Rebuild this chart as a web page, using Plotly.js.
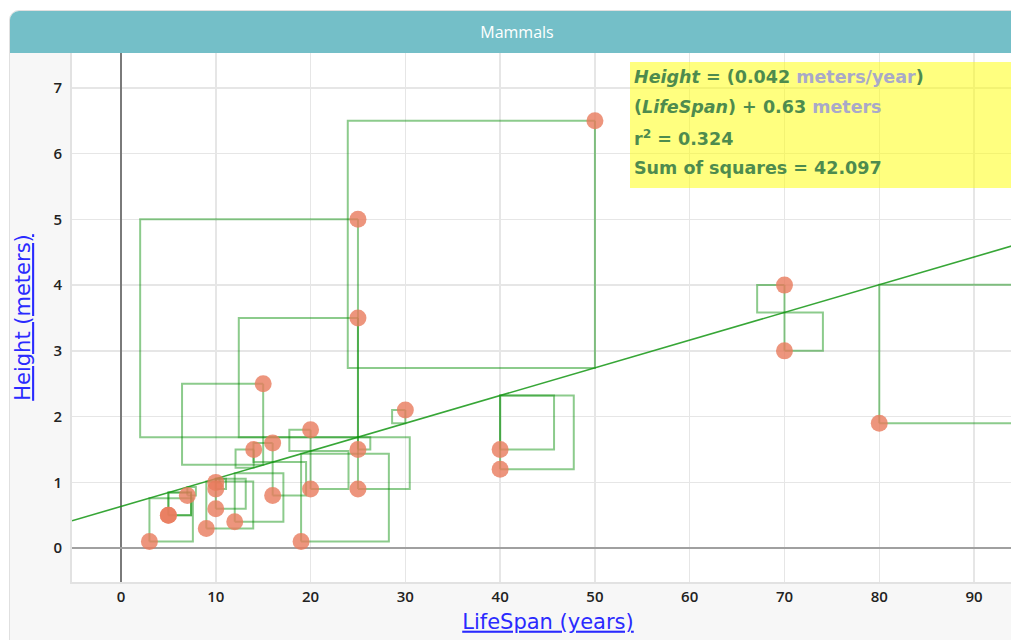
<!DOCTYPE html>
<html>
<head>
<meta charset="utf-8">
<script src="https://cdn.plot.ly/plotly-3.0.1.min.js"></script>
<style>
  html, body { margin:0; padding:0; background:#ffffff; overflow:hidden; width:1011px; height:640px; }
  #panel { position:absolute; left:9px; top:10px; width:1040px; height:660px; background:#f7f7f7;
           border:1px solid #e0e0e0; border-top-left-radius:10px; box-sizing:border-box; }
  #hdr { position:absolute; left:0; top:0; right:0; height:42px; background:#74bfc8; border-top-left-radius:9px; }
  #chart { position:absolute; left:0; top:0; width:1025px; height:640px; }
</style>
</head>
<body>
<div id="panel"><div id="hdr"></div></div>
<div id="chart"></div>
<script>
// Mammals data (LifeSpan in years, Height in meters)
const lifeSpan = [3, 5, 5, 7, 9, 10, 10, 10, 12, 14, 15, 16, 16, 19, 20, 20, 25, 25, 25, 25, 30, 40, 40, 50, 70, 70, 80];
const heightM  = [0.1, 0.5, 0.5, 0.8, 0.3, 1.0, 0.9, 0.6, 0.4, 1.5, 2.5, 1.6, 0.8, 0.1, 1.8, 0.9, 5.0, 3.5, 1.5, 0.9, 2.1, 1.5, 1.2, 6.5, 4.0, 3.0, 1.9];
const xTicks = [0, 10, 20, 30, 40, 50, 60, 70, 80, 90];
const yTicks = [0, 1, 2, 3, 4, 5, 6, 7];

const W = 1025, H = 640;
const M = {l: 72, r: 1, t: 53, b: 58};
const xRange = [-5.17, 95.27];
const yRange = [-0.515, 7.53];

// least squares fit
const n = lifeSpan.length;
const mx = lifeSpan.reduce((a, v) => a + v, 0) / n;
const my = heightM.reduce((a, v) => a + v, 0) / n;
let sxx = 0, sxy = 0, syy = 0;
for (let i = 0; i < n; i++) {
  sxx += (lifeSpan[i] - mx) ** 2;
  sxy += (lifeSpan[i] - mx) * (heightM[i] - my);
  syy += (heightM[i] - my) ** 2;
}
const slope = sxy / sxx;
const intercept = my - slope * mx;
const r2 = (sxy * sxy) / (sxx * syy);
let sse = 0;
for (let i = 0; i < n; i++) sse += (heightM[i] - (intercept + slope * lifeSpan[i])) ** 2;

// squares of residuals: equal pixel size in both directions
const plotW = W - M.l - M.r, plotH = H - M.t - M.b;
const pxX = plotW / (xRange[1] - xRange[0]);
const pxY = plotH / (yRange[1] - yRange[0]);
const kx = pxY / pxX;
const sqX = [], sqY = [];
for (let i = 0; i < n; i++) {
  const x = lifeSpan[i], y = heightM[i];
  const yh = intercept + slope * x;
  const r = y - yh;
  const dx = (r > 0 ? -1 : 1) * Math.abs(r) * kx;
  sqX.push(x, x + dx, x + dx, x, x, null);
  sqY.push(y, y, yh, yh, y, null);
}

const traces = [
  {x: sqX, y: sqY, mode: 'lines', type: 'scatter', hoverinfo: 'skip',
   line: {color: 'rgba(0,140,0,0.45)', width: 2}},
  {x: xRange, y: xRange.map(v => intercept + slope * v), mode: 'lines', type: 'scatter',
   line: {color: 'rgba(20,150,20,0.85)', width: 1.6}},
  {x: lifeSpan, y: heightM, mode: 'markers', type: 'scatter',
   marker: {size: 17, color: 'rgba(233,122,92,0.8)', line: {width: 0}}}
];

const G = '#4e8b4e', U = '#a9a9c9';
const lines = [
  `<b><i>Height</i> = (${slope.toFixed(3)} <span style="color:${U}">meters/year</span>)</b>`,
  `<b>(<i>LifeSpan</i>) + ${intercept.toFixed(2)} <span style="color:${U}">meters</span></b>`,
  `<b>r<sup>2</sup> = ${r2.toFixed(3)}</b>`,
  `<b>Sum of squares = ${sse.toFixed(3)}</b>`
];
const linePx = [77, 107, 138, 168];
const annotations = lines.map((t, i) => ({
  text: t, xref: 'paper', yref: 'paper', x: (632 - M.l) / plotW, y: (H - M.b - linePx[i]) / plotH,
  xanchor: 'left', yanchor: 'middle', showarrow: false,
  font: {family: 'DejaVu Sans', size: 17.5, color: G}
}));

const layout = {
  width: W, height: H,
  margin: M,
  paper_bgcolor: 'rgba(0,0,0,0)',
  plot_bgcolor: '#ffffff',
  showlegend: false,
  title: {text: 'Mammals', x: 517 / W, xanchor: 'center', y: 1 - 32 / H, yanchor: 'middle',
          font: {family: 'Open Sans', size: 16, color: '#ffffff'}},
  xaxis: {
    range: xRange, tickvals: xTicks, ticktext: xTicks.map(String),
    showgrid: true, gridcolor: '#e6e6e6', gridwidth: 1.5,
    zeroline: true, zerolinecolor: '#7a7a7a', zerolinewidth: 1.5,
    showline: true, linecolor: '#e2e2e2', linewidth: 2,
    ticks: '', ticklabelstandoff: 0,
    tickfont: {family: 'Open Sans', size: 15, color: '#222', weight: 600},
    title: {text: '<span style="text-decoration:underline">LifeSpan (years)</span>', standoff: 9,
            font: {family: 'DejaVu Sans', size: 21, color: '#2a2aff'}}
  },
  yaxis: {
    range: yRange, tickvals: yTicks, ticktext: yTicks.map(String),
    showgrid: true, gridcolor: '#e6e6e6', gridwidth: 1.5,
    zeroline: true, zerolinecolor: '#a0a0a0', zerolinewidth: 2.5,
    showline: true, linecolor: '#e2e2e2', linewidth: 2,
    ticks: '', ticklabelstandoff: 5,
    tickfont: {family: 'Open Sans', size: 15, color: '#222', weight: 600},
    title: {text: '<span style="text-decoration:underline">Height (meters)</span>', standoff: 17,
            font: {family: 'DejaVu Sans', size: 21, color: '#2a2aff'}}
  },
  shapes: [{type: 'rect', xref: 'paper', yref: 'paper',
            x0: (630 - M.l) / plotW, x1: 1.0,
            y0: (H - M.b - 188) / plotH, y1: (H - M.b - 62) / plotH,
            fillcolor: 'rgba(255,255,0,0.5)', line: {width: 0}, layer: 'above'}],
  annotations: annotations
};

Plotly.newPlot('chart', traces, layout, {displayModeBar: false, staticPlot: true});
</script>
</body>
</html>
